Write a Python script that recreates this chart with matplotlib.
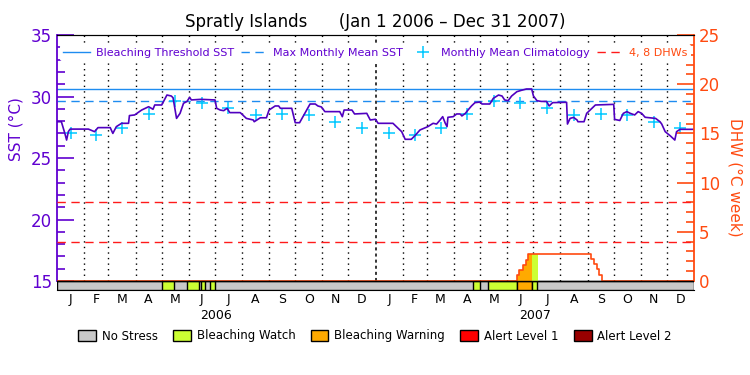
import numpy as np
import pandas as pd
import matplotlib
matplotlib.use("Agg")
import matplotlib.pyplot as plt
from matplotlib.lines import Line2D
from matplotlib.patches import Patch, Rectangle
from matplotlib.ticker import MultipleLocator

# ── Data ───────────────────────────────────────────────────────────────────
# days since 2006-01-01
sst_day = [0, 5, 9, 11, 13, 15, 21, 36, 43, 47, 61, 64, 68, 74, 82, 83, 89, 97, 105, 110,
           112, 120, 126, 131, 133, 137, 141, 145, 149, 152, 154, 165, 181, 183, 187, 191,
           195, 198, 210, 217, 225, 226, 233, 240, 243, 250, 254, 256, 269, 273, 278, 284,
           290, 296, 299, 303, 307, 324, 327, 329, 338, 341, 355, 359, 365, 368, 385, 389,
           395, 399, 406, 410, 416, 425, 431, 435, 439, 442, 445, 447, 448, 454, 458, 462,
           464, 468, 471, 475, 479, 485, 487, 496, 500, 506, 510, 513, 517, 521, 527, 532,
           538, 544, 546, 550, 555, 561, 564, 568, 584, 585, 588, 592, 596, 597, 604, 607,
           611, 617, 638, 639, 645, 649, 653, 657, 662, 666, 670, 674, 686, 691, 693, 697,
           703, 708, 710, 714, 730]
sst_val = [27.95, 27.95, 27.0, 26.46, 27.14, 27.35, 27.35, 27.35, 27.14, 27.47, 27.47, 27.0,
           27.55, 27.82, 27.82, 28.45, 28.5, 28.9, 29.17, 28.96, 29.31, 29.31, 30.12, 30.04,
           29.9, 28.22, 28.63, 29.45, 29.6, 29.93, 29.72, 29.77, 29.72, 29.04, 28.9, 28.85,
           29.04, 28.69, 28.69, 28.22, 28.09, 27.95, 28.27, 28.27, 28.9, 29.23, 29.23, 29.04,
           29.04, 27.87, 27.87, 28.63, 29.39, 29.39, 29.23, 29.15, 28.77, 28.77, 28.36, 28.9,
           28.9, 28.58, 28.63, 28.09, 28.15, 27.82, 27.82, 27.55, 27.14, 26.52, 26.52, 26.8,
           27.28, 27.55, 27.82, 27.76, 28.09, 28.36, 27.82, 27.55, 28.31, 28.36, 28.58, 28.58,
           28.42, 28.63, 28.9, 29.23, 29.5, 29.55, 29.39, 29.39, 29.85, 30.12, 30.04, 29.72,
           29.66, 30.04, 30.39, 30.5, 30.61, 30.61, 30.04, 29.66, 29.6, 29.6, 29.23, 29.5,
           29.53, 27.76, 28.22, 28.3, 28.09, 27.95, 27.95, 28.63, 28.9, 29.31, 29.36, 28.14,
           28.05, 28.63, 28.77, 28.63, 28.5, 28.77, 28.63, 28.31, 28.22, 27.95, 27.76, 27.14,
           26.79, 26.46, 27.14, 27.33, 27.33]

clim_month = ["J", "F", "M", "A", "M", "J", "J", "A", "S", "O", "N", "D"]
clim_val = [27.03, 26.9, 27.47, 28.55, 29.6, 29.45, 29.1, 28.52, 28.55, 28.47, 27.95, 27.41]

mmm = 29.6
bleach_threshold = 30.6
dhw_levels = [4, 8]

dhw_day = [0, 527, 530, 534, 537, 540, 612, 615, 618.5, 621.5, 625, 730]
dhw_val = [0, 0.57, 1.1, 1.6, 2.1, 2.7, 2.2, 1.7, 1.2, 0.6, 0, 0]

# stress level runs: 1 watch, 2 warning, 3 alert 1, 4 alert 2
stress_start = [120.7, 148.6, 165.4, 175.0, 477.0, 494.3, 526.8, 544.0]
stress_end = [134.5, 163.1, 170.0, 181.4, 485.0, 526.8, 544.0, 550.4]
stress_level = [1, 1, 1, 1, 1, 1, 2, 1]

stress_names = ["No Stress", "Bleaching Watch", "Bleaching Warning", "Alert Level 1", "Alert Level 2"]
stress_colors = ["#c8c8c8", "#ccff33", "#ffaa00", "#ff0000", "#990000"]

# ── Colours ────────────────────────────────────────────────────────────────
PURPLE = "#6000d0"
LINE = "#5000c0"
BLUE = "#1e8cf0"
CYAN = "#00c8ff"
ORANGE = "#ff4a10"

start = pd.Timestamp("2006-01-01")
mstarts = pd.date_range("2006-01-01", "2008-01-01", freq="MS")
moff = np.array((mstarts - start).days)
mmid = (moff[:-1] + moff[1:]) / 2
ndays = moff[-1]

fig = plt.figure(figsize=(7.5, 3.75), dpi=100)
ax = fig.add_axes([57/750, 1-290/375, 637/750, 255/375])
ax2 = ax.twinx()

ybot = 15 - 9/12.3
ax.set_xlim(0, ndays)
ax.set_ylim(ybot, 35)
ax2.set_ylim(0 - 9/9.84, 25)

# month grid
for d in moff[1:-1]:
    if d == 365:
        ax.plot([d, d], [15, 35], color="black", lw=1.1, ls=(0, (2, 2)), zorder=1)
    else:
        ax.plot([d, d], [15, 35], color="black", lw=1, ls=(0, (1, 3)), zorder=1)

ax.axhline(bleach_threshold, color=BLUE, lw=1, zorder=2)
ax.axhline(mmm, color=BLUE, lw=1, ls=(0, (6, 4)), zorder=2)
ax.plot(mmid, clim_val * 2, ls="none", marker="+", ms=8, mew=1.1, color=CYAN, zorder=3)
ax.plot(sst_day, sst_val, color=LINE, lw=1.2, zorder=4)

# stress bar
ax.add_patch(Rectangle((0, ybot), ndays, 15 - ybot, fc=stress_colors[0], ec="black", lw=1, zorder=5))
for s, e, lv in zip(stress_start, stress_end, stress_level):
    ax.add_patch(Rectangle((s, ybot), e - s, 15 - ybot, fc=stress_colors[lv], ec="black", lw=1, zorder=6))

# DHW
for lv in dhw_levels:
    ax2.axhline(lv, color="#ff1a1a", lw=1, ls=(0, (6, 4)))
dd = np.array(dhw_day, float)
dv = np.array(dhw_val)
for s, e, lv in zip(stress_start, stress_end, stress_level):
    ax2.fill_between(dd, 0, dv, step="post", color=stress_colors[lv], lw=0).set_clip_path(
        Rectangle((s, 0), e - s, 30, transform=ax2.transData))
ax2.plot(dd, dv, drawstyle="steps-post", color=ORANGE, lw=1.2, zorder=4)
ax2.plot([0, ndays], [0, 0], color="black", lw=1, zorder=5)

# axes styling
ax.spines["left"].set_bounds(15, 35)
ax.spines["left"].set_color(PURPLE)
ax.spines["left"].set_linewidth(1.3)
ax.spines["right"].set_visible(False)
ax2.spines["left"].set_visible(False)
ax2.spines["right"].set_bounds(0, 25)
ax2.spines["right"].set_color(ORANGE)
ax2.spines["right"].set_linewidth(1.3)
ax2.spines["bottom"].set_visible(False)
ax.set_yticks(range(15, 36, 5))
ax.yaxis.set_minor_locator(MultipleLocator(1))
ax.tick_params(axis="y", which="both", direction="in", colors=PURPLE, labelsize=12)
ax.tick_params(axis="y", which="major", length=12, width=1.2)
ax.tick_params(axis="y", which="minor", length=6, width=1.2)
ax2.set_yticks(range(0, 26, 5))
ax2.yaxis.set_minor_locator(MultipleLocator(1))
ax2.tick_params(axis="y", which="both", direction="in", colors=ORANGE, labelsize=12)
ax2.tick_params(axis="y", which="major", length=12, width=1.2)
ax2.tick_params(axis="y", which="minor", length=6, width=1.2)

ax.set_xticks(mmid)
ax.set_xticklabels(clim_month * 2)
ax.tick_params(axis="x", length=0, pad=2, labelsize=9)
for i, yr in enumerate(["2006", "2007"]):
    ax.text((moff[12*i] + moff[12*i+12]) / 2, -0.075, yr, transform=ax.get_xaxis_transform(),
            ha="center", va="top", fontsize=9)

ax.set_ylabel("SST (°C)", color=PURPLE, fontsize=11)
ax.yaxis.set_label_coords(-0.052, 0.63)
ax2.set_ylabel("DHW (°C week)", color=ORANGE, fontsize=11, rotation=270, va="bottom")
ax2.yaxis.set_label_coords(1.052, 0.44)

ax.set_title("Spratly Islands      (Jan 1 2006 – Dec 31 2007)", fontsize=12, pad=6)

# top legend
handles = [Line2D([], [], color=BLUE, lw=1),
           Line2D([], [], color=BLUE, lw=1, ls=(0, (6, 4))),
           Line2D([], [], color=CYAN, ls="none", marker="+", ms=8, mew=1.1),
           Line2D([], [], color="#ff1a1a", lw=1, ls=(0, (6, 4)))]
labels = ["Bleaching Threshold SST", "Max Monthly Mean SST", "Monthly Mean Climatology", "4, 8 DHWs"]
leg = ax2.legend(handles, labels, loc="upper center", bbox_to_anchor=(0.5, 0.985), ncol=4,
                 fontsize=8, frameon=True, facecolor="white", edgecolor="none", framealpha=1,
                 handlelength=2.4, handletextpad=0.5, columnspacing=0.6, borderpad=0.3)
for t, c in zip(leg.get_texts(), [PURPLE, PURPLE, PURPLE, ORANGE]):
    t.set_color(c)

# bottom stress legend
fig.legend([Patch(fc=c, ec="black", lw=1) for c in stress_colors], stress_names,
           loc="center", bbox_to_anchor=(0.5, 1 - 336/375), ncol=5, frameon=False, fontsize=8.5,
           handlelength=1.5, handleheight=1.1, handletextpad=0.5, columnspacing=1.3)

plt.savefig("out.png", dpi=100)
plt.close()
